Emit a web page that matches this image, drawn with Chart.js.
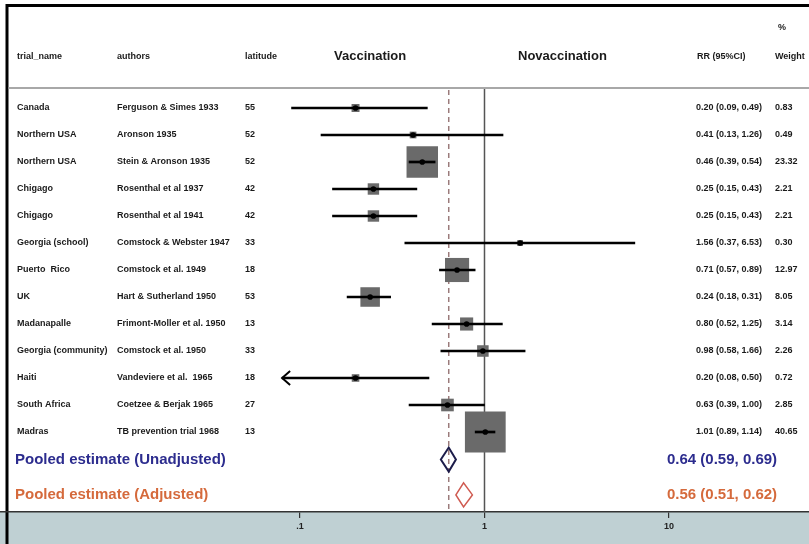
<!DOCTYPE html>
<html>
<head>
<meta charset="utf-8">
<script src="https://cdn.jsdelivr.net/npm/chart.js@4.4.1/dist/chart.umd.min.js"></script>
<style>
  html, body { margin: 0; padding: 0; background: #fff; }
  canvas { display: block; }
</style>
</head>
<body>
<canvas id="forest" width="809" height="544"></canvas>
<script>
// study table
const trialNames = ["Canada", "Northern USA", "Northern USA", "Chigago", "Chigago", "Georgia (school)", "Puerto  Rico", "UK", "Madanapalle", "Georgia (community)", "Haiti", "South Africa", "Madras"];
const authors = ["Ferguson & Simes 1933", "Aronson 1935", "Stein & Aronson 1935", "Rosenthal et al 1937", "Rosenthal et al 1941", "Comstock & Webster 1947", "Comstock et al. 1949", "Hart & Sutherland 1950", "Frimont-Moller et al. 1950", "Comstock et al. 1950", "Vandeviere et al.  1965", "Coetzee & Berjak 1965", "TB prevention trial 1968"];
const latitudes = [55, 52, 52, 42, 42, 33, 18, 53, 13, 33, 18, 27, 13];
const rr = [0.20, 0.41, 0.46, 0.25, 0.25, 1.56, 0.71, 0.24, 0.80, 0.98, 0.20, 0.63, 1.01];
const ciLow = [0.09, 0.13, 0.39, 0.15, 0.15, 0.37, 0.57, 0.18, 0.52, 0.58, 0.08, 0.39, 0.89];
const ciHigh = [0.49, 1.26, 0.54, 0.43, 0.43, 6.53, 0.89, 0.31, 1.25, 1.66, 0.50, 1.00, 1.14];
const weights = [0.83, 0.49, 23.32, 2.21, 2.21, 0.30, 12.97, 8.05, 3.14, 2.26, 0.72, 2.85, 40.65];

// pooled estimates (text as printed)
const pooledLabels = ["Pooled estimate (Unadjusted)", "Pooled estimate (Adjusted)"];
const pooledRR = [0.64, 0.56];
const pooledLow = [0.59, 0.51];
const pooledHigh = [0.69, 0.62];
// diamonds as drawn in the picture
const diamondMid = [0.64, 0.77];
const diamondLow = [0.58, 0.70];
const diamondHigh = [0.70, 0.86];

const xTicks = [0.1, 1, 10];
const tickLabels = [".1", "1", "10"];

const FONT = '"Liberation Sans", Arial, sans-serif';
const rows = trialNames.map((_, i) => i + 1);
const pooledRows = [14.02, 15.33];
const colors = { navy: "#2c2c8e", orange: "#d56a3c", square: "#6a6a6a", band: "#bfd0d3" };
const headerY = 88;

const fmt = (v) => v.toFixed(2);
const squareSide = (w) => 2.5 + 6 * Math.sqrt(w);

const tablePlugin = {
  id: "forestTable",
  beforeDraw(chart) {
    const { ctx, chartArea, width, height } = chart;
    ctx.save();
    ctx.fillStyle = "#fff";
    ctx.fillRect(0, 0, width, height);
    ctx.fillStyle = colors.band;
    ctx.fillRect(0, chartArea.bottom, width, height - chartArea.bottom);
    // frame
    ctx.strokeStyle = "#000";
    ctx.lineWidth = 3;
    ctx.beginPath();
    ctx.moveTo(7, height);
    ctx.lineTo(7, 5.5);
    ctx.lineTo(width, 5.5);
    ctx.stroke();
    // header rule
    ctx.strokeStyle = "#a8a8a8";
    ctx.lineWidth = 2;
    ctx.beginPath();
    ctx.moveTo(8.5, headerY);
    ctx.lineTo(width, headerY);
    ctx.stroke();
    ctx.restore();
  },
  beforeDatasetsDraw(chart) {
    const { ctx, chartArea, scales } = chart;
    const x1 = scales.x.getPixelForValue(1);
    const xp = scales.x.getPixelForValue(diamondMid[0]);
    ctx.save();
    ctx.strokeStyle = "#555";
    ctx.lineWidth = 1.5;
    ctx.beginPath();
    ctx.moveTo(x1, headerY + 1);
    ctx.lineTo(x1, chartArea.bottom);
    ctx.stroke();
    ctx.strokeStyle = "#9b7b7b";
    ctx.setLineDash([5, 4]);
    ctx.beginPath();
    ctx.moveTo(xp, headerY + 2);
    ctx.lineTo(xp, chartArea.bottom);
    ctx.stroke();
    ctx.restore();
  },
  afterDatasetsDraw(chart) {
    const { ctx, scales } = chart;
    const { x, y } = scales;
    ctx.save();
    // arrow for Haiti (CI runs off the left)
    const hi = trialNames.indexOf("Haiti");
    const ax = x.getPixelForValue(ciLow[hi]);
    const ay = y.getPixelForValue(rows[hi]);
    ctx.strokeStyle = "#000";
    ctx.lineWidth = 2;
    ctx.beginPath();
    ctx.moveTo(ax + 8, ay - 7);
    ctx.lineTo(ax, ay);
    ctx.lineTo(ax + 8, ay + 7);
    ctx.stroke();
    // pooled diamonds
    const strokes = ["#1c1c4a", "#cf5a50"];
    const widths = [2, 1.5];
    diamondMid.forEach((m, i) => {
      const cy = y.getPixelForValue(pooledRows[i]);
      const cx = x.getPixelForValue(m);
      ctx.strokeStyle = strokes[i];
      ctx.lineWidth = widths[i];
      ctx.beginPath();
      ctx.moveTo(x.getPixelForValue(diamondLow[i]), cy);
      ctx.lineTo(cx, cy - 12);
      ctx.lineTo(x.getPixelForValue(diamondHigh[i]), cy);
      ctx.lineTo(cx, cy + 12);
      ctx.closePath();
      ctx.stroke();
    });
    ctx.restore();
  },
  afterDraw(chart) {
    const { ctx, scales } = chart;
    const y = scales.y;
    ctx.save();
    ctx.textBaseline = "middle";
    ctx.fillStyle = "#1a1a1a";
    ctx.font = "bold 9px " + FONT;
    ctx.fillText("trial_name", 17, 57);
    ctx.fillText("authors", 117, 57);
    ctx.fillText("latitude", 245, 57);
    ctx.fillText("RR (95%CI)", 697, 57);
    ctx.fillText("Weight", 775, 57);
    ctx.fillText("%", 778, 28);
    ctx.font = "bold 13px " + FONT;
    ctx.fillText("Vaccination", 334, 56);
    ctx.fillText("Novaccination", 518, 56);

    ctx.font = "bold 9px " + FONT;
    rows.forEach((r, i) => {
      const py = y.getPixelForValue(r);
      ctx.fillText(trialNames[i], 17, py);
      ctx.fillText(authors[i], 117, py);
      ctx.fillText(String(latitudes[i]), 245, py);
      ctx.fillText(`${fmt(rr[i])} (${fmt(ciLow[i])}, ${fmt(ciHigh[i])})`, 696, py);
      ctx.fillText(fmt(weights[i]), 775, py);
    });

    ctx.font = "bold 15px " + FONT;
    const pc = [colors.navy, colors.orange];
    pooledLabels.forEach((lab, i) => {
      const py = y.getPixelForValue(pooledRows[i]);
      ctx.fillStyle = pc[i];
      ctx.fillText(lab, 15, py);
      ctx.fillText(`${fmt(pooledRR[i])} (${fmt(pooledLow[i])}, ${fmt(pooledHigh[i])})`, 667, py);
    });
    ctx.restore();
  }
};

new Chart(document.getElementById("forest"), {
  data: {
    datasets: [
      {
        type: "scatter",
        order: 0,
        data: rows.map((r, i) => ({ x: rr[i], y: r })),
        pointStyle: "circle",
        pointRadius: 2.8,
        backgroundColor: "#000",
        borderWidth: 0
      },
      {
        type: "bar",
        order: 1,
        indexAxis: "y",
        data: rows.map((r, i) => ({ x: [ciLow[i], ciHigh[i]], y: r })),
        barThickness: 2,
        backgroundColor: "#000",
        borderWidth: 0,
        borderSkipped: false
      },
      {
        type: "scatter",
        order: 2,
        data: rows.map((r, i) => ({ x: rr[i], y: r })),
        pointStyle: "rect",
        pointRadius: (c) => squareSide(weights[c.dataIndex]) / Math.SQRT2,
        backgroundColor: colors.square,
        borderWidth: 0
      }
    ]
  },
  options: {
    responsive: false,
    animation: false,
    events: [],
    layout: { padding: 0, autoPadding: false },
    plugins: { legend: { display: false }, tooltip: { enabled: false } },
    scales: {
      x: {
        type: "logarithmic",
        position: "bottom",
        bounds: "data",
        offset: false,
        min: 0.002366,
        max: 57.39,
        afterFit: (scale) => { scale.height = 32; },
        afterBuildTicks: (scale) => { scale.ticks = xTicks.map((v) => ({ value: v })); },
        ticks: {
          autoSkip: false,
          maxRotation: 0,
          padding: 3,
          color: "#222",
          font: { family: FONT, size: 9, weight: "bold" },
          callback: (v) => tickLabels[xTicks.indexOf(v)] ?? ""
        },
        grid: { drawOnChartArea: false, drawTicks: true, tickLength: 6, color: "#333", lineWidth: 1.2, offset: false },
        border: { display: true, color: "#333", width: 1.5 }
      },
      y: {
        type: "linear",
        display: false,
        reverse: true,
        bounds: "data",
        offset: false,
        grid: { offset: false },
        min: -3,
        max: 15.963
      }
    }
  },
  plugins: [tablePlugin]
});
</script>
</body>
</html>
